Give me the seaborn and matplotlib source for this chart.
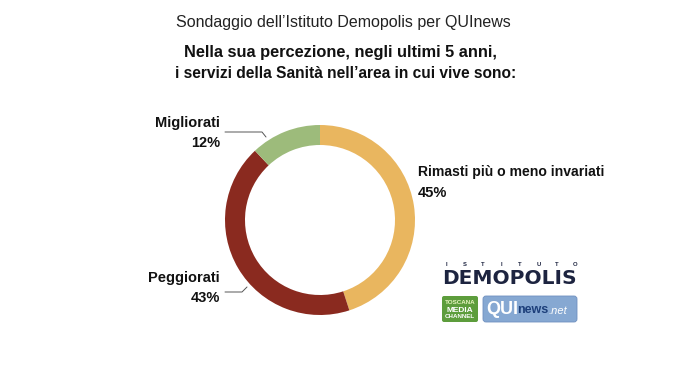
import matplotlib
matplotlib.use("Agg")
import matplotlib.pyplot as plt
import matplotlib.patches as mpatches
import seaborn as sns

# dati
categorie = ["Rimasti più o meno invariati", "Peggiorati", "Migliorati"]
valori = [45, 43, 12]
colori = ["#E9B65F", "#8A2A1F", "#9DBB7B"]

sns.set_theme(style="white")
plt.rcParams['font.family'] = ['Liberation Sans', 'DejaVu Sans']

fig = plt.figure(figsize=(6.75, 3.8), dpi=100)
ax = fig.add_axes([0, 0, 1, 1])
ax.set_xlim(0, 675)
ax.set_ylim(0, 380)
ax.set_aspect('equal')
ax.axis('off')

# ciambella
ax.pie(valori, colors=colori, startangle=90, counterclock=False,
       center=(320, 160), radius=95,
       wedgeprops=dict(width=20, edgecolor='none'))
ax.set_xlim(0, 675)
ax.set_ylim(0, 380)

# titoli
ax.text(343, 357, "Sondaggio dell\u2019Istituto Demopolis per QUInews", ha='center', va='center',
        fontsize=11.5, color='#222222')
ax.text(340, 328, "Nella sua percezione, negli ultimi 5 anni,", ha='center', va='center',
        fontsize=11.8, fontweight='bold', color='#111111')
ax.text(346, 306, "i servizi della Sanità nell\u2019area in cui vive sono:", ha='center', va='center',
        fontsize=11.2, fontweight='bold', color='#111111')

# etichette
lab = dict(fontsize=10.5, fontweight='bold', color='#111111')
ax.text(220, 257, categorie[2], ha='right', va='center', **lab)
ax.text(220, 237, f"{valori[2]}%", ha='right', va='center', **lab)
ax.text(220, 102, categorie[1], ha='right', va='center', **lab)
ax.text(220, 82, f"{valori[1]}%", ha='right', va='center', **lab)
ax.text(418, 208, categorie[0], ha='left', va='center', fontsize=10.1, fontweight='bold', color='#111111')
ax.text(418, 187, f"{valori[0]}%", ha='left', va='center', **lab)

# linee guida
ax.plot([225, 262, 266], [248, 248, 243], color='#555555', lw=0.7)
ax.plot([225, 242, 247], [88, 88, 93], color='#555555', lw=0.7)

# loghi (testo)
for i, ch in enumerate("ISTITUTO"):
    ax.text(446 + i * 18.5, 116, ch, ha='center', va='center', fontsize=4.2,
            fontweight='bold', color='#1d2440')
ax.text(509, 101, "DEMOPOLIS", ha='center', va='center', fontsize=14.5,
        fontweight='bold', color='#1d2440', family='DejaVu Sans')
ax.add_patch(mpatches.FancyBboxPatch((442, 58), 36, 26, boxstyle="round,pad=0,rounding_size=2",
                                     fc='#5d9d3c', ec='none'))
ax.text(460, 77, "TOSCANA", ha='center', va='center', fontsize=4.5, fontweight='bold', color='#e8f5c0')
ax.text(460, 70, "MEDIA", ha='center', va='center', fontsize=6, fontweight='bold', color='white')
ax.text(460, 63, "CHANNEL", ha='center', va='center', fontsize=4.5, fontweight='bold', color='white')
ax.add_patch(mpatches.FancyBboxPatch((483, 58), 94, 26, boxstyle="round,pad=0,rounding_size=3",
                                     fc='#86a8d2', ec='#6f8fbf', lw=0.6))
ax.text(486, 71, "QUI", ha='left', va='center', fontsize=13, fontweight='bold', color='white')
ax.text(517, 70, "news", ha='left', va='center', fontsize=9, fontweight='bold', color='#1d3f7a')
ax.text(549, 69, ".net", ha='left', va='center', fontsize=8, fontstyle='italic', color='white')

fig.savefig("out.png", dpi=100)
